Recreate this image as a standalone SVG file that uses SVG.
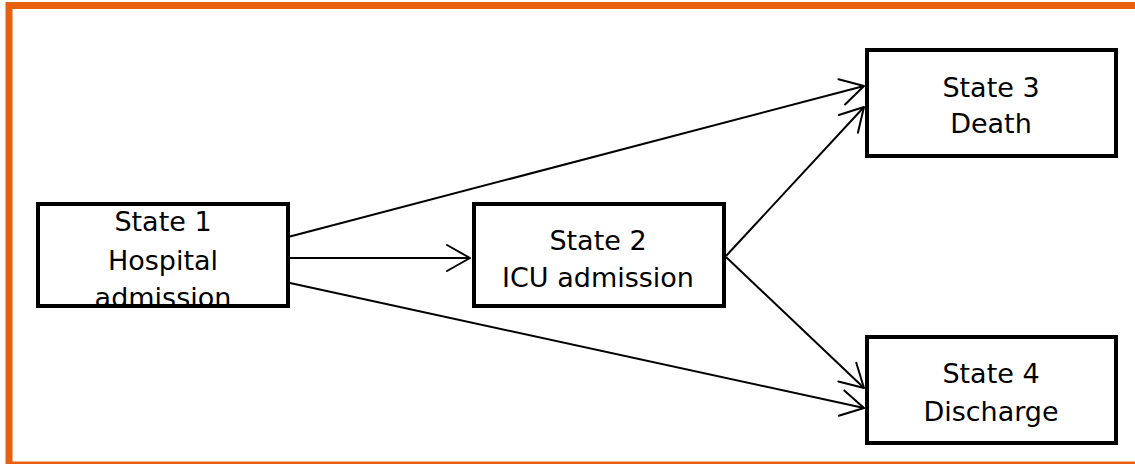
<svg xmlns="http://www.w3.org/2000/svg" width="1135" height="464" viewBox="0 0 1135 464">
  <style>
    .frame { fill: #ffffff; stroke: #E8600F; stroke-width: 7; }
    .box { fill: #ffffff; stroke: #000000; stroke-width: 4; }
    .label { font-family: "DejaVu Sans", "Liberation Sans", sans-serif; font-size: 27px; fill: #000000; text-anchor: middle; }
    .edge { fill: none; stroke: #000000; stroke-width: 2; marker-end: url(#open-arrow); }
  </style>
  <defs>
    <marker id="open-arrow" markerUnits="userSpaceOnUse" viewBox="-26 -16 28 32" refX="0" refY="0" markerWidth="28" markerHeight="32" orient="auto" overflow="visible">
      <path d="M -23 -13 L 0 0 L -23 13" fill="none" stroke="#000000" stroke-width="2" stroke-linejoin="round" stroke-linecap="round"/>
    </marker>
  </defs>

  <!-- outer frame; its right side runs past the canvas edge -->
  <rect class="frame" x="9" y="5.5" width="1150" height="459.5"/>

  <!-- transitions -->
  <g id="connectors">
    <line class="edge" x1="290" y1="258" x2="470" y2="258"/>
    <line class="edge" x1="290" y1="236.5" x2="864" y2="86"/>
    <line class="edge" x1="290" y1="283" x2="864" y2="408"/>
    <line class="edge" x1="726" y1="256" x2="864" y2="107"/>
    <line class="edge" x1="726" y1="257" x2="864" y2="388"/>
  </g>

  <g id="state1">
    <rect class="box" x="38" y="204" width="250" height="102"/>
    <text class="label" x="163" y="231">State 1</text>
    <text class="label" x="163" y="270">Hospital</text>
    <text class="label" x="163" y="307">admission</text>
  </g>

  <g id="state2">
    <rect class="box" x="474" y="204" width="250" height="102"/>
    <text class="label" x="598" y="250">State 2</text>
    <text class="label" x="598" y="287">ICU admission</text>
  </g>

  <g id="state3">
    <rect class="box" x="867" y="50" width="249" height="106"/>
    <text class="label" x="991" y="97">State 3</text>
    <text class="label" x="991" y="133">Death</text>
  </g>

  <g id="state4">
    <rect class="box" x="867" y="337" width="249" height="106"/>
    <text class="label" x="991" y="383">State 4</text>
    <text class="label" x="991" y="421">Discharge</text>
  </g>
</svg>
